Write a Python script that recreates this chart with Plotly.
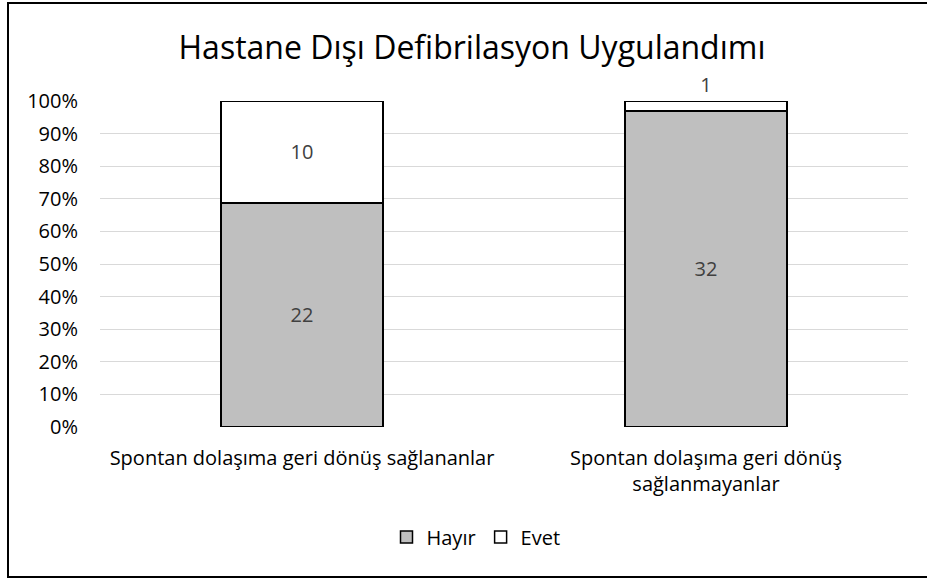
import plotly.graph_objects as go

categories = ["Spontan dolaşıma geri dönüş sağlananlar",
              "Spontan dolaşıma geri dönüş sağlanmayanlar"]
category_labels = ["Spontan dolaşıma geri dönüş sağlananlar",
                   "Spontan dolaşıma geri dönüş<br>sağlanmayanlar"]
hayir = [22, 32]
evet = [10, 1]
y_ticks = list(range(0, 101, 10))
y_tick_labels = [f"{v}%" for v in y_ticks]

FONT = "Open Sans"
W, H = 927, 579
L, R, T, B = 100, 19, 101, 152
TICK_SIZE = 20
LABEL_SIZE = 20

fig = go.Figure()
fig.add_trace(go.Bar(
    name="Hayır", x=categories, y=hayir,
    marker=dict(color="#BFBFBF", line=dict(color="#000000", width=1.5)),
    text=[str(v) for v in hayir], textposition="inside",
    insidetextanchor="middle",
    textfont=dict(family=FONT, size=LABEL_SIZE, color="#404040"),
    cliponaxis=False,
))
fig.add_trace(go.Bar(
    name="Evet", x=categories, y=evet,
    marker=dict(color="#FFFFFF", line=dict(color="#000000", width=1.5)),
    text=[str(v) for v in evet], textposition=["inside", "outside"],
    insidetextanchor="middle",
    textfont=dict(family=FONT, size=LABEL_SIZE, color="#404040"),
    cliponaxis=False,
))

pw = W - L - R
ph = H - T - B
fig.update_layout(
    width=W, height=H,
    margin=dict(l=L, r=R, t=T, b=B),
    barmode="stack", barnorm="percent", bargap=0.6,
    paper_bgcolor="white", plot_bgcolor="white",
    font=dict(family=FONT, size=TICK_SIZE, color="#000000"),
    title=dict(text="Hastane Dışı Defibrilasyon Uygulandımı",
               font=dict(family=FONT, size=32, color="#000000"),
               x=472 / W, xanchor="center", xref="container",
               y=1 - 48 / H, yanchor="middle", yref="container"),
    xaxis=dict(tickmode="array", tickvals=categories, ticktext=category_labels,
               showgrid=False, showline=False, ticks="",
               ticklabelstandoff=17,
               tickfont=dict(family=FONT, size=TICK_SIZE, color="#000000")),
    yaxis=dict(range=[0, 100], tickmode="array", tickvals=y_ticks,
               ticktext=y_tick_labels, showgrid=True, gridcolor="#D9D9D9",
               gridwidth=1, zeroline=False, showline=False, ticks="",
               ticklabelstandoff=21,
               tickfont=dict(family=FONT, size=TICK_SIZE, color="#000000")),
    legend=dict(orientation="h", x=476 / W, xanchor="center", xref="container",
                y=1 - 537 / H, yanchor="middle", yref="container",
                font=dict(family=FONT, size=TICK_SIZE, color="#000000"),
                itemwidth=30, traceorder="normal"),
    showlegend=True,
    shapes=[dict(type="rect", xref="paper", yref="paper",
                 x0=(8 - L) / pw, x1=(932 - L) / pw,
                 y0=(T + ph - 577) / ph, y1=(T + ph - 3) / ph,
                 line=dict(color="#000000", width=2), fillcolor="rgba(0,0,0,0)",
                 layer="below")],
)

fig.write_html("out.html", config={"displayModeBar": False},
               post_script="document.body.style.margin='0';document.body.style.overflow='hidden';")
